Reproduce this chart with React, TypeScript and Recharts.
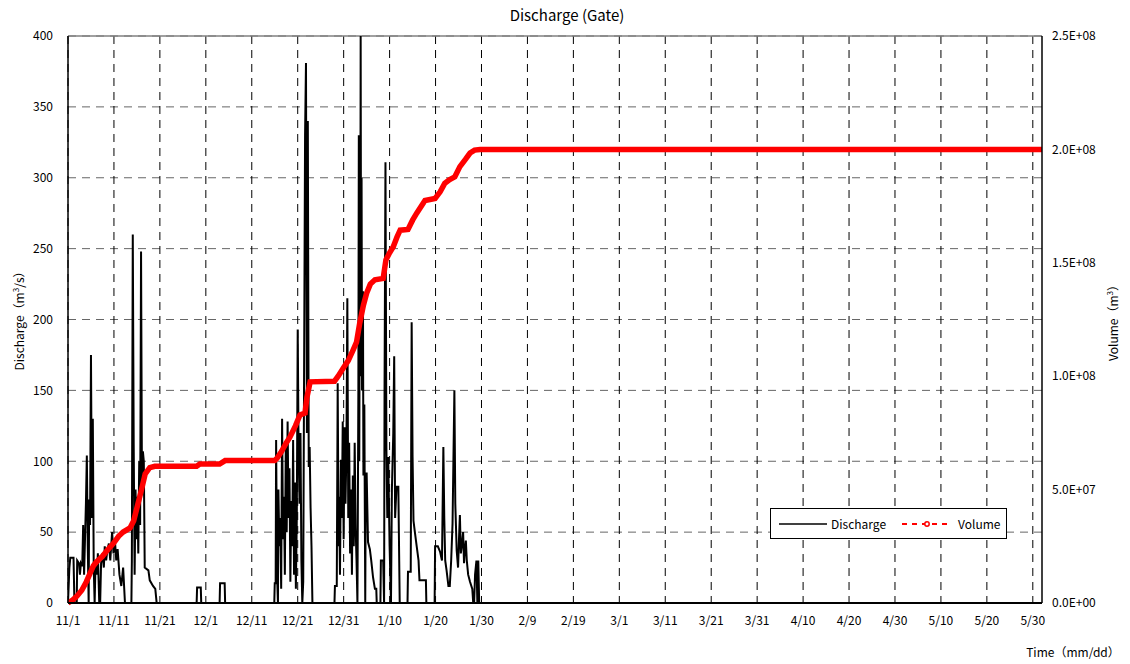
import React from "react";
import { ComposedChart, Line, XAxis, YAxis, CartesianGrid, ReferenceLine } from "recharts";

const FONT = "'Noto Sans CJK JP', 'Noto Sans', sans-serif";

const xTickDays = [0, 10, 20, 30, 40, 50, 60, 70, 80, 90, 100, 110, 120, 130, 140, 150, 160, 170, 180, 190, 200, 210];
const xTickLabels = ["11/1", "11/11", "11/21", "12/1", "12/11", "12/21", "12/31", "1/10", "1/20", "1/30", "2/9", "2/19", "3/1", "3/11", "3/21", "3/31", "4/10", "4/20", "4/30", "5/10", "5/20", "5/30"];
const dischargeTicks = [0, 50, 100, 150, 200, 250, 300, 350, 400];
const volumeTicks = [0, 5e7, 1e8, 1.5e8, 2e8, 2.5e8];

// discharge events: [day since 11/1, m3/s]
const dischargeNov: [number, number][] = [
  [0, 0], [0.3, 25], [0.5, 32], [1.2, 32], [1.4, 0], [1.9, 0], [2.0, 30], [2.4, 28], [2.6, 20], [2.8, 28],
  [3.1, 26], [3.3, 55], [3.5, 20], [3.7, 45], [3.9, 70], [4.1, 104], [4.3, 40], [4.5, 0], [4.6, 73], [4.8, 55],
  [5.0, 175], [5.2, 60], [5.4, 130], [5.6, 25], [5.8, 0], [6.0, 30], [6.3, 20], [6.5, 35], [6.8, 0], [7.0, 0],
  [7.2, 28], [7.5, 35], [7.8, 25], [8.0, 40], [8.3, 30], [8.6, 38], [8.9, 42], [9.2, 30], [9.6, 50], [9.9, 35],
  [10.2, 45], [10.5, 30], [10.8, 38], [11.2, 20], [11.6, 12], [12.0, 25], [12.4, 0], [13.8, 0], [13.9, 30],
  [14.1, 260], [14.3, 112], [14.5, 20], [14.7, 80], [14.9, 45], [15.1, 75], [15.3, 35], [15.5, 100], [15.7, 55],
  [15.9, 248], [16.1, 80], [16.3, 107], [16.5, 100], [16.7, 25], [17.5, 23], [17.8, 16], [18.5, 12], [19.0, 10], [19.3, 0],
];
const dischargeSmall: [number, number][] = [
  [28.0, 0], [28.1, 11], [28.9, 11], [29.0, 0], [33.0, 0], [33.1, 14], [34.1, 14], [34.2, 0],
];
const dischargeDec: [number, number][] = [
  [44.9, 0], [45.0, 14], [45.2, 14], [45.3, 115], [45.5, 20], [45.7, 0], [45.8, 80], [46.0, 40], [46.2, 60],
  [46.4, 10], [46.6, 130], [46.8, 45], [47.0, 75], [47.2, 20], [47.4, 110], [47.6, 50], [47.8, 128], [48.0, 60],
  [48.2, 95], [48.4, 15], [48.6, 72], [48.8, 40], [49.0, 115], [49.2, 20], [49.4, 85], [49.6, 10], [49.8, 60],
  [50.0, 193], [50.2, 105], [50.4, 70], [50.6, 120], [50.8, 30], [51.0, 0], [51.2, 15], [51.6, 330], [51.8, 381],
  [52.0, 120], [52.2, 340], [52.4, 96], [52.6, 110], [52.8, 67], [53.0, 40], [53.2, 0],
];
const dischargeNewYear: [number, number][] = [
  [58.0, 0], [58.1, 12], [58.5, 12], [58.7, 155], [58.9, 40], [59.0, 75], [59.2, 20], [59.4, 101], [59.6, 60],
  [59.8, 128], [60.0, 45], [60.2, 124], [60.4, 70], [60.6, 107], [60.8, 215], [61.0, 60], [61.2, 113], [61.4, 35],
  [61.6, 80], [61.8, 20], [62.0, 90], [62.2, 40], [62.4, 113], [62.6, 54], [62.8, 30], [63.0, 0], [63.2, 150],
  [63.3, 330], [63.4, 100], [63.5, 230], [63.6, 160], [63.7, 400], [63.8, 180], [63.9, 300], [64.0, 150],
  [64.2, 220], [64.3, 90], [64.5, 140], [64.7, 0], [64.8, 80], [65.0, 92], [65.3, 43], [65.7, 38], [66.0, 30],
  [66.4, 18], [66.8, 10], [67.1, 10], [67.2, 0],
];
const dischargeJan1: [number, number][] = [
  [68.0, 0], [68.1, 30], [68.6, 30], [68.8, 0], [68.9, 150], [69.1, 311], [69.3, 110], [69.5, 60], [69.7, 103],
  [70.0, 40], [70.3, 0], [70.5, 80], [70.8, 120], [71.0, 174], [71.2, 60], [71.5, 82], [71.9, 82], [72.2, 0],
  [73.9, 0], [74.0, 22], [74.6, 22], [74.8, 198], [75.0, 103], [75.2, 58], [75.5, 50], [75.9, 40], [76.3, 30],
  [76.5, 16], [77.9, 16], [78.0, 0],
];
const dischargeJan2: [number, number][] = [
  [79.8, 0], [79.9, 40], [80.5, 40], [81.0, 36], [81.4, 30], [81.7, 110], [81.9, 60], [82.1, 30], [82.4, 23],
  [82.8, 12], [83.1, 12], [83.4, 30], [83.7, 56], [84.1, 150], [84.3, 70], [84.6, 37], [84.9, 25], [85.1, 45],
  [85.3, 62], [85.5, 35], [85.7, 40], [86.0, 50], [86.2, 28], [86.4, 38], [86.6, 44], [86.8, 30], [87.1, 20],
  [87.5, 15], [88.0, 10], [88.2, 0], [88.4, 0], [88.6, 20], [88.9, 30], [89.1, 0], [89.3, 30], [89.5, 0], [212, 0],
];

// cumulative volume: [day since 11/1, million m3]
const volumeMillion: [number, number][] = [
  [0, 0], [1.0, 1.3], [1.9, 2.9], [3.0, 5.6], [4.0, 9.4], [4.8, 13.1], [5.5, 16.3], [6.2, 18.1], [7.5, 20.6],
  [8.5, 23.1], [9.9, 26.3], [11.0, 29.4], [12.0, 31.3], [13.5, 33.1], [14.3, 36.3], [15.0, 41.9], [16.0, 50.0],
  [16.8, 56.9], [17.8, 59.7], [18.9, 60.3], [28.0, 60.3], [28.7, 61.3], [33.0, 61.3], [34.2, 62.8], [45.0, 62.8],
  [45.5, 63.8], [46.5, 66.9], [47.5, 70.6], [48.3, 73.1], [49.5, 78.1], [50.5, 82.9], [51.6, 83.8], [52.0, 90.6],
  [52.7, 97.5], [58.0, 97.8], [58.8, 100.0], [60.0, 103.8], [61.0, 106.9], [62.0, 111.3], [62.8, 115.0],
  [63.5, 123.4], [64.3, 131.3], [65.0, 136.6], [65.8, 140.6], [66.8, 142.5], [68.6, 143.1], [69.2, 151.3],
  [70.0, 154.4], [70.8, 157.1], [71.6, 161.3], [72.3, 164.4], [74.0, 164.7], [75.0, 168.8], [75.9, 171.9],
  [77.7, 177.5], [79.9, 178.4], [81.0, 181.3], [82.0, 185.0], [83.0, 186.6], [84.2, 187.9], [85.3, 192.4],
  [86.5, 195.6], [87.5, 198.4], [88.5, 199.7], [89.7, 200.0], [212, 200.0],
];

const dischargeData = [
  ...dischargeNov, ...dischargeSmall, ...dischargeDec, ...dischargeNewYear, ...dischargeJan1, ...dischargeJan2,
].map(([day, q]) => ({ day, q }));
const volumeData = volumeMillion.map(([day, v]) => ({ day, v: v * 1e6 }));

const fmtExp = (v: number) => {
  if (v === 0) return "0.0E+00";
  const e = Math.floor(Math.log10(v) + 1e-9);
  const m = v / Math.pow(10, e);
  return `${m.toFixed(1)}E+${String(e).padStart(2, "0")}`;
};

const xLabel = (d: number) => {
  const i = xTickDays.indexOf(d);
  return i >= 0 ? xTickLabels[i] : "";
};

const tickStyle = { fontSize: 12, fill: "#000", fontFamily: FONT };

export default function App() {
  return (
    <div style={{ position: "absolute", left: 0, top: 0, width: 1130, height: 664, background: "#fff", fontFamily: FONT }}>
      <ComposedChart width={1130} height={664} margin={{ top: 36, right: 0, bottom: 0, left: 0 }}>
        <CartesianGrid yAxisId="q" horizontal={true} vertical={false} stroke="#666" strokeDasharray="8 6" />
        <CartesianGrid yAxisId="q" horizontal={false} vertical={true} verticalValues={xTickDays} stroke="#000" strokeDasharray="8 6" />
        <XAxis
          type="number"
          dataKey="day"
          domain={[0, 212]}
          ticks={xTickDays}
          tickFormatter={xLabel}
          allowDataOverflow
          height={61}
          tickLine={false}
          tickSize={10}
          tickMargin={3}
          axisLine={{ stroke: "#000", strokeWidth: 2 }}
          tick={tickStyle}
          interval={0}
          label={{
            content: () => (
              <g>
                <text x={567} y={21} textAnchor="middle" fontSize={15} fontFamily={FONT} fill="#000">
                  Discharge (Gate)
                </text>
                <text x={1073} y={657} textAnchor="middle" fontSize={12} fontFamily={FONT} fill="#000">
                  Time（mm/dd）
                </text>
              </g>
            ),
          }}
        />
        <YAxis
          yAxisId="q"
          orientation="left"
          domain={[0, 400]}
          ticks={dischargeTicks}
          width={68}
          tickLine={false}
          tickSize={13}
          tickMargin={2}
          axisLine={{ stroke: "#000", strokeWidth: 1.5 }}
          tick={tickStyle}
          allowDataOverflow
          label={{
            content: () => (
              <text transform="translate(24,318) rotate(-90)" textAnchor="middle" fontSize={12} fontFamily={FONT} fill="#000">
                Discharge（m<tspan dy={-5} fontSize={8}>3</tspan><tspan dy={5}>/s）</tspan>
              </text>
            ),
          }}
        />
        <YAxis
          yAxisId="v"
          orientation="right"
          domain={[0, 2.5e8]}
          ticks={volumeTicks}
          width={88}
          tickLine={false}
          tickSize={8}
          tickMargin={2}
          tickFormatter={fmtExp}
          axisLine={{ stroke: "#000", strokeWidth: 1.5 }}
          tick={tickStyle}
          label={{
            content: () => (
              <text transform="translate(1118,320) rotate(-90)" textAnchor="middle" fontSize={12} fontFamily={FONT} fill="#000">
                Volume（m<tspan dy={-5} fontSize={8}>3</tspan><tspan dy={5}>）</tspan>
              </text>
            ),
          }}
        />
        <ReferenceLine yAxisId="q" y={400} stroke="#808080" strokeWidth={1.5} />
        <Line
          yAxisId="q"
          data={dischargeData}
          dataKey="q"
          type="linear"
          stroke="#000"
          strokeWidth={2}
          dot={false}
          isAnimationActive={false}
        />
        <Line
          yAxisId="v"
          data={volumeData}
          dataKey="v"
          type="linear"
          stroke="#ff0000"
          strokeWidth={5.5}
          dot={false}
          isAnimationActive={false}
        />
      </ComposedChart>
      <div
        style={{
          position: "absolute", left: 770, top: 508, width: 237, height: 31, border: "1px solid #000",
          background: "#fff", boxSizing: "border-box", display: "flex", alignItems: "center", fontSize: 12, color: "#000",
        }}
      >
        <svg width={50} height={10} style={{ marginLeft: 8 }}>
          <line x1={0} y1={5} x2={48} y2={5} stroke="#000" strokeWidth={1.5} />
        </svg>
        <span style={{ marginLeft: 2 }}>Discharge</span>
        <svg width={48} height={10} style={{ marginLeft: 16 }}>
          <line x1={0} y1={5} x2={46} y2={5} stroke="#ff0000" strokeWidth={2} strokeDasharray="5 5" />
          <circle cx={25} cy={5} r={2.2} fill="#fff" stroke="#ff0000" strokeWidth={1.5} />
        </svg>
        <span style={{ marginLeft: 8 }}>Volume</span>
      </div>
    </div>
  );
}
